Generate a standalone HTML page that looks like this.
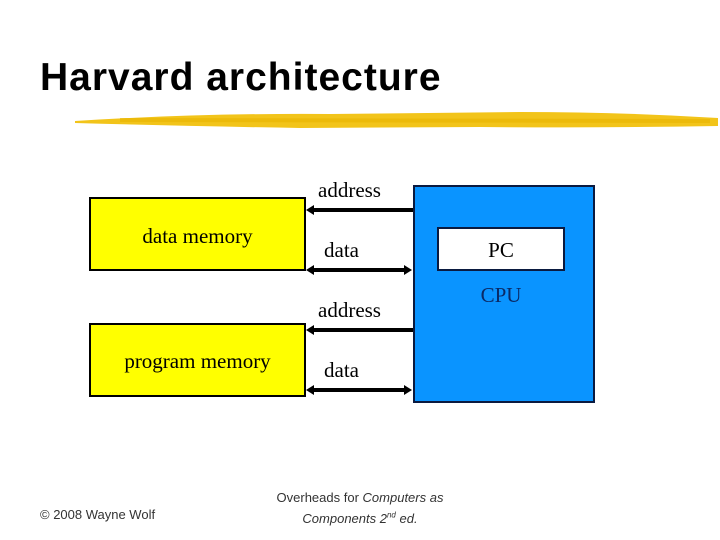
<!DOCTYPE html>
<html><head><meta charset="utf-8"><style>
html,body{margin:0;padding:0;background:#fff;}
body{width:720px;height:540px;position:relative;overflow:hidden;font-family:"Liberation Serif",serif;}
.a{position:absolute;}
.t{font-family:"Liberation Sans",sans-serif;font-weight:bold;font-size:39px;left:40px;top:56px;letter-spacing:1px;white-space:nowrap;}
.lbl{font-size:21px;white-space:nowrap;color:#000;}
.ft{font-family:"Liberation Sans",sans-serif;font-size:13px;color:#333;white-space:nowrap;}
</style></head><body>
<div class="a t">Harvard architecture</div>
<svg class="a" style="left:0;top:0" width="720" height="540">
  <path d="M75 121 Q200 113 330 114 L520 112 Q620 112 718 118 L718 126 Q600 128 480 127 L300 128 Q180 126 75 123 Z" fill="#f2c41a"/>
  <path d="M120 118 L710 119 L710 123 L120 122 Z" fill="#e8b400" opacity="0.6"/>
  <rect x="90" y="198" width="215" height="72" fill="#ffff00" stroke="#000" stroke-width="2"/>
  <rect x="90" y="324" width="215" height="72" fill="#ffff00" stroke="#000" stroke-width="2"/>
  <rect x="414" y="186" width="180" height="216" fill="#0a94ff" stroke="#0a1a40" stroke-width="2"/>
  <rect x="438" y="228" width="126" height="42" fill="#fff" stroke="#0a1a40" stroke-width="2"/>
  <g stroke="#000" stroke-width="4">
    <line x1="312" y1="210" x2="413" y2="210"/>
    <line x1="312" y1="270" x2="406" y2="270"/>
    <line x1="312" y1="330" x2="413" y2="330"/>
    <line x1="312" y1="390" x2="406" y2="390"/>
  </g>
  <g fill="#000">
    <polygon points="306,210 314,205 314,215"/>
    <polygon points="306,270 314,265 314,275"/>
    <polygon points="412,270 404,265 404,275"/>
    <polygon points="306,330 314,325 314,335"/>
    <polygon points="306,390 314,385 314,395"/>
    <polygon points="412,390 404,385 404,395"/>
  </g>
</svg>
<div class="a lbl" style="left:318px;top:178px">address</div>
<div class="a lbl" style="left:324px;top:238px">data</div>
<div class="a lbl" style="left:318px;top:298px">address</div>
<div class="a lbl" style="left:324px;top:358px">data</div>
<div class="a lbl" style="left:90px;width:215px;text-align:center;top:224px">data memory</div>
<div class="a lbl" style="left:90px;width:215px;text-align:center;top:349px">program memory</div>
<div class="a lbl" style="left:438px;width:126px;text-align:center;top:238px">PC</div>
<div class="a lbl" style="left:438px;width:126px;text-align:center;top:283px;color:#0a2a66">CPU</div>
<div class="a ft" style="left:40px;top:507px">© 2008 Wayne Wolf</div>
<div class="a ft" style="left:240px;width:240px;text-align:center;top:489px;line-height:18px">Overheads for <i>Computers as</i><br><i>Components 2<sup style="font-size:8px">nd</sup> ed.</i></div>
</body></html>
